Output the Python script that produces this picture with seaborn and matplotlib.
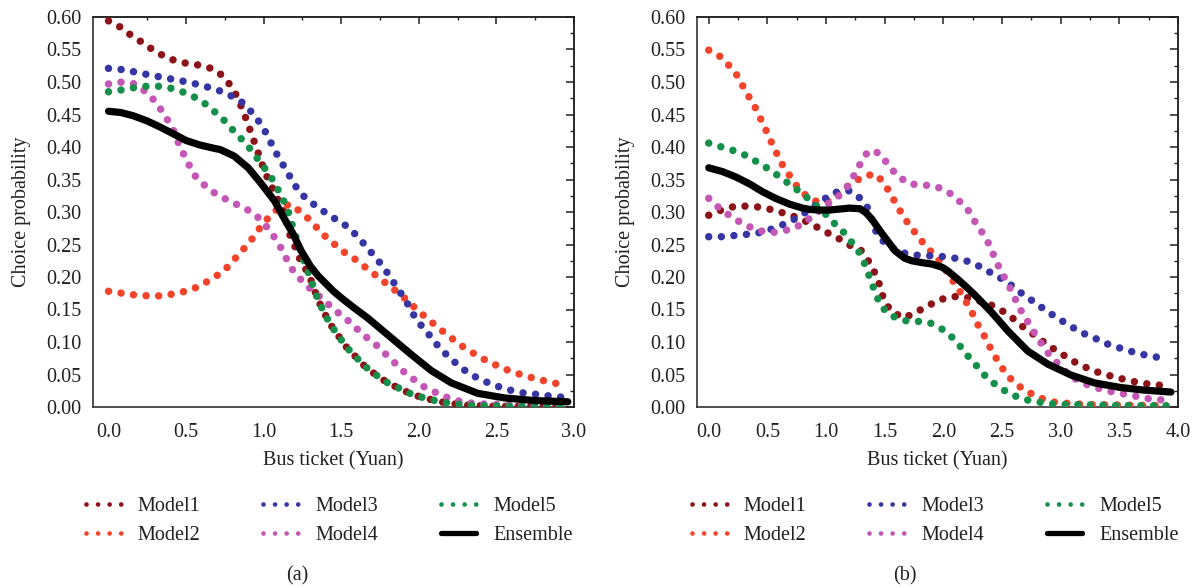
import matplotlib
matplotlib.use("Agg")
import matplotlib.pyplot as plt
import seaborn as sns
import numpy as np
import pandas as pd
from matplotlib.lines import Line2D
from matplotlib.ticker import MultipleLocator, FormatStrFormatter

# ---------------- data: panel (a) ----------------
m1a_x = [0.00,0.08,0.15,0.23,0.30,0.39,0.47,0.56,0.64,0.71,0.77,0.82,0.86,0.89,0.92,0.95,0.98,1.01,1.06,1.10,1.13,1.15,1.17,1.21,1.24,1.29,1.32,1.35,1.39,1.43,1.48,1.53,1.59,1.65,1.72,1.80,1.88,1.96,2.05,2.14,2.22,2.30,2.40,2.50,2.60,2.70,2.80,2.95]
m1a_y = [0.594,0.584,0.571,0.559,0.547,0.536,0.530,0.527,0.523,0.515,0.500,0.481,0.460,0.441,0.421,0.401,0.380,0.360,0.335,0.315,0.300,0.281,0.264,0.242,0.223,0.205,0.185,0.165,0.145,0.127,0.110,0.093,0.078,0.063,0.050,0.037,0.028,0.019,0.013,0.008,0.005,0.003,0.002,0.001,0.001,0.001,0.001,0.000]

m2a_x = [0.00,0.09,0.18,0.26,0.35,0.44,0.53,0.60,0.68,0.75,0.81,0.87,0.93,0.98,1.04,1.10,1.17,1.24,1.31,1.37,1.44,1.50,1.58,1.65,1.72,1.79,1.86,1.93,1.99,2.06,2.13,2.20,2.27,2.35,2.43,2.51,2.59,2.67,2.76,2.85,2.93]
m2a_y = [0.178,0.175,0.172,0.171,0.171,0.175,0.180,0.188,0.199,0.211,0.227,0.243,0.260,0.277,0.294,0.307,0.312,0.300,0.285,0.268,0.254,0.241,0.229,0.216,0.203,0.190,0.177,0.163,0.149,0.135,0.121,0.108,0.095,0.083,0.072,0.063,0.055,0.049,0.043,0.038,0.034]

m3a_x = [0.00,0.09,0.18,0.26,0.35,0.44,0.53,0.61,0.69,0.78,0.85,0.91,0.97,1.02,1.06,1.10,1.15,1.19,1.24,1.31,1.38,1.45,1.53,1.59,1.65,1.71,1.77,1.82,1.87,1.92,1.96,2.01,2.07,2.12,2.18,2.25,2.32,2.40,2.48,2.57,2.66,2.74,2.84,2.93]
m3a_y = [0.521,0.519,0.515,0.511,0.507,0.503,0.499,0.494,0.489,0.480,0.471,0.457,0.439,0.420,0.400,0.382,0.363,0.345,0.328,0.314,0.302,0.291,0.279,0.266,0.250,0.233,0.216,0.198,0.180,0.162,0.144,0.127,0.110,0.095,0.080,0.065,0.052,0.042,0.034,0.027,0.022,0.020,0.017,0.015]

m4a_x = [0.00,0.09,0.17,0.24,0.31,0.36,0.41,0.44,0.48,0.52,0.56,0.62,0.69,0.77,0.85,0.93,0.99,1.05,1.10,1.14,1.18,1.24,1.30,1.37,1.43,1.50,1.57,1.63,1.71,1.77,1.84,1.90,1.97,2.04,2.13,2.21,2.30,2.38,2.50,2.65,2.80,2.93]
m4a_y = [0.497,0.500,0.497,0.485,0.468,0.449,0.431,0.412,0.391,0.372,0.355,0.341,0.328,0.318,0.309,0.299,0.286,0.268,0.250,0.231,0.213,0.196,0.182,0.168,0.155,0.141,0.128,0.113,0.099,0.085,0.069,0.055,0.042,0.030,0.020,0.012,0.007,0.005,0.004,0.003,0.002,0.002]

m5a_x = [0.00,0.09,0.18,0.27,0.36,0.44,0.52,0.60,0.66,0.73,0.79,0.85,0.91,0.96,1.02,1.07,1.11,1.15,1.19,1.23,1.26,1.29,1.32,1.35,1.39,1.43,1.48,1.53,1.59,1.65,1.72,1.80,1.88,1.96,2.05,2.14,2.22,2.30,2.45,2.60,2.75,2.95]
m5a_y = [0.485,0.488,0.492,0.494,0.493,0.488,0.481,0.471,0.459,0.445,0.429,0.414,0.398,0.382,0.363,0.345,0.326,0.307,0.275,0.245,0.225,0.205,0.185,0.165,0.145,0.127,0.110,0.093,0.078,0.063,0.050,0.037,0.028,0.019,0.013,0.008,0.005,0.003,0.002,0.001,0.001,0.000]

ensa_x = [0.00,0.08,0.16,0.25,0.33,0.42,0.50,0.59,0.68,0.72,0.81,0.90,0.98,1.07,1.13,1.19,1.24,1.30,1.35,1.40,1.45,1.50,1.58,1.67,1.82,1.95,2.08,2.21,2.38,2.55,2.74,2.96]
ensa_y = [0.455,0.453,0.448,0.440,0.431,0.420,0.410,0.403,0.398,0.396,0.386,0.368,0.345,0.317,0.291,0.266,0.241,0.217,0.202,0.190,0.178,0.168,0.153,0.137,0.107,0.081,0.056,0.037,0.021,0.014,0.010,0.008]

# ---------------- data: panel (b) ----------------
m1b_x = [0.00,0.12,0.23,0.34,0.46,0.57,0.68,0.79,0.88,0.98,1.10,1.20,1.29,1.36,1.42,1.46,1.49,1.55,1.66,1.75,1.86,1.97,2.08,2.19,2.31,2.42,2.52,2.61,2.70,2.80,2.89,2.99,3.09,3.20,3.31,3.42,3.53,3.65,3.76,3.88]
m1b_y = [0.295,0.304,0.309,0.309,0.307,0.302,0.296,0.289,0.281,0.271,0.260,0.249,0.243,0.225,0.205,0.186,0.166,0.148,0.137,0.144,0.155,0.165,0.170,0.169,0.163,0.156,0.146,0.134,0.120,0.108,0.095,0.084,0.072,0.062,0.054,0.048,0.043,0.038,0.035,0.033]

m2b_x = [0.00,0.10,0.18,0.26,0.31,0.38,0.43,0.48,0.53,0.58,0.63,0.69,0.75,0.83,0.94,1.04,1.12,1.23,1.33,1.43,1.51,1.57,1.63,1.69,1.76,1.83,1.91,1.99,2.05,2.12,2.18,2.24,2.29,2.35,2.40,2.46,2.52,2.59,2.69,2.81,2.92,3.03,3.20,3.50,3.90]
m2b_y = [0.549,0.539,0.524,0.506,0.486,0.467,0.448,0.429,0.409,0.390,0.372,0.356,0.340,0.325,0.314,0.318,0.332,0.345,0.356,0.358,0.340,0.321,0.302,0.285,0.268,0.252,0.236,0.220,0.202,0.184,0.166,0.147,0.128,0.109,0.091,0.072,0.055,0.040,0.026,0.015,0.008,0.006,0.004,0.003,0.002]

m3b_x = [0.00,0.12,0.23,0.35,0.46,0.57,0.68,0.78,0.87,0.97,1.07,1.19,1.27,1.35,1.43,1.51,1.62,1.73,1.84,1.96,2.07,2.18,2.29,2.39,2.49,2.59,2.68,2.77,2.87,2.97,3.07,3.17,3.28,3.38,3.50,3.61,3.72,3.84]
m3b_y = [0.262,0.262,0.264,0.266,0.269,0.276,0.284,0.294,0.305,0.318,0.330,0.333,0.325,0.308,0.268,0.250,0.239,0.234,0.233,0.232,0.230,0.226,0.218,0.208,0.198,0.186,0.173,0.162,0.149,0.137,0.126,0.115,0.107,0.098,0.091,0.085,0.080,0.076]

m4b_x = [0.00,0.09,0.19,0.29,0.40,0.51,0.62,0.74,0.83,0.93,1.02,1.11,1.19,1.25,1.30,1.36,1.45,1.53,1.60,1.71,1.82,1.94,2.04,2.13,2.21,2.27,2.34,2.40,2.44,2.49,2.55,2.60,2.65,2.71,2.77,2.83,2.90,2.98,3.06,3.17,3.28,3.39,3.51,3.63,3.74,3.86]
m4b_y = [0.321,0.306,0.293,0.282,0.273,0.268,0.270,0.276,0.286,0.300,0.313,0.325,0.341,0.360,0.377,0.394,0.391,0.373,0.357,0.343,0.342,0.339,0.331,0.318,0.303,0.285,0.266,0.247,0.228,0.209,0.190,0.171,0.152,0.134,0.116,0.099,0.081,0.066,0.051,0.038,0.031,0.025,0.021,0.017,0.013,0.011]

m5b_x = [0.00,0.11,0.22,0.33,0.43,0.53,0.62,0.71,0.80,0.89,0.98,1.05,1.14,1.22,1.29,1.34,1.38,1.42,1.46,1.53,1.65,1.77,1.88,1.98,2.07,2.15,2.22,2.30,2.37,2.47,2.57,2.68,2.80,2.91,3.03,3.30,3.60,3.90]
m5b_y = [0.406,0.400,0.394,0.386,0.375,0.364,0.352,0.340,0.328,0.314,0.300,0.286,0.271,0.253,0.236,0.216,0.195,0.176,0.158,0.143,0.133,0.132,0.130,0.121,0.108,0.092,0.076,0.060,0.045,0.031,0.020,0.012,0.008,0.005,0.004,0.003,0.002,0.002]

ensb_x = [0.00,0.12,0.23,0.35,0.46,0.57,0.69,0.80,0.86,0.94,1.03,1.20,1.29,1.34,1.39,1.48,1.59,1.67,1.73,1.82,1.90,1.99,2.04,2.12,2.20,2.27,2.34,2.41,2.55,2.72,2.89,3.09,3.29,3.51,3.71,3.94]
ensb_y = [0.368,0.362,0.354,0.343,0.331,0.321,0.312,0.306,0.304,0.303,0.303,0.306,0.305,0.299,0.289,0.266,0.240,0.229,0.225,0.222,0.220,0.215,0.209,0.197,0.184,0.172,0.159,0.146,0.117,0.086,0.066,0.049,0.037,0.030,0.026,0.023]

series_names = ["Model1", "Model2", "Model3", "Model4", "Model5", "Ensemble"]
colors = ["#8c1418", "#f2442b", "#3535a3", "#c457b5", "#14904a", "#000000"]

panel_a = [(m1a_x, m1a_y), (m2a_x, m2a_y), (m3a_x, m3a_y), (m4a_x, m4a_y), (m5a_x, m5a_y), (ensa_x, ensa_y)]
panel_b = [(m1b_x, m1b_y), (m2b_x, m2b_y), (m3b_x, m3b_y), (m4b_x, m4b_y), (m5b_x, m5b_y), (ensb_x, ensb_y)]

x_ticks_a = [0.0, 0.5, 1.0, 1.5, 2.0, 2.5, 3.0]
x_ticks_b = [0.0, 0.5, 1.0, 1.5, 2.0, 2.5, 3.0, 3.5, 4.0]
y_ticks = [0.00, 0.05, 0.10, 0.15, 0.20, 0.25, 0.30, 0.35, 0.40, 0.45, 0.50, 0.55, 0.60]

# ---------------- style ----------------
sns.set_style("white")
plt.rcParams["font.family"] = ["Liberation Serif", "DejaVu Serif"]
plt.rcParams["text.color"] = "#231f20"
plt.rcParams["axes.labelcolor"] = "#231f20"
plt.rcParams["xtick.color"] = "#231f20"
plt.rcParams["ytick.color"] = "#231f20"
FS = 14.5

fig = plt.figure(figsize=(11.98, 5.88), dpi=100)
W, H = 1198, 588
ax_a = fig.add_axes([93 / W, 1 - 407 / H, 481 / W, 390 / H])
ax_b = fig.add_axes([697 / W, 1 - 407 / H, 481 / W, 390 / H])

DOT_LW = 5.4
ENS_LW = 5.2


def draw_panel(ax, data, xlim, xticks):
    for (xs, ys), name, col in zip(data, series_names, colors):
        df = pd.DataFrame({"x": xs, "y": ys})
        if name == "Ensemble":
            sns.lineplot(data=df, x="x", y="y", ax=ax, color=col, linewidth=ENS_LW,
                         sort=False, estimator=None, solid_capstyle="round",
                         solid_joinstyle="round", zorder=5)
        else:
            sns.lineplot(data=df, x="x", y="y", ax=ax, color=col, linewidth=DOT_LW,
                         sort=False, estimator=None, linestyle=(0, (0.001, 1.68)),
                         dash_capstyle="round", zorder=3)
    ax.set_xlim(*xlim)
    ax.set_ylim(0, 0.6)
    ax.set_xticks(xticks)
    ax.set_yticks(y_ticks)
    ax.xaxis.set_minor_locator(MultipleLocator(0.25))
    ax.yaxis.set_minor_locator(MultipleLocator(0.025))
    ax.xaxis.set_major_formatter(FormatStrFormatter("%.1f"))
    ax.yaxis.set_major_formatter(FormatStrFormatter("%.2f"))
    ax.tick_params(axis="both", which="major", direction="out", length=5.5, width=1.1,
                   labelsize=FS, top=False, right=False)
    ax.tick_params(axis="both", which="minor", direction="out", length=2.5, width=1.0,
                   top=False, right=False)
    ax.tick_params(axis="x", which="major", pad=6.0)
    ax.tick_params(axis="y", which="major", pad=3)
    for s in ax.spines.values():
        s.set_linewidth(1.1)
        s.set_color("#231f20")
    # mirrored inward ticks on top and right
    sx = ax.secondary_xaxis("top")
    sx.set_xticks(xticks)
    sx.xaxis.set_minor_locator(MultipleLocator(0.25))
    sx.tick_params(which="major", direction="in", length=5, width=1.1, labeltop=False)
    sx.tick_params(which="minor", direction="in", length=2.5, width=1.0)
    sx.spines["top"].set_linewidth(1.1)
    sy = ax.secondary_yaxis("right")
    sy.set_yticks(y_ticks)
    sy.yaxis.set_minor_locator(MultipleLocator(0.025))
    sy.tick_params(which="major", direction="in", length=6, width=1.1, labelright=False)
    sy.tick_params(which="minor", direction="in", length=3, width=1.0)
    sy.spines["right"].set_linewidth(1.1)
    ax.set_xlabel("Bus ticket (Yuan)", fontsize=FS, labelpad=7)
    ax.set_ylabel("Choice probability", fontsize=FS, labelpad=11)
    ax.grid(False)
    leg = ax.get_legend()
    if leg is not None:
        leg.remove()


draw_panel(ax_a, panel_a, (-0.1, 3.0), x_ticks_a)
draw_panel(ax_b, panel_b, (-0.1, 4.0), x_ticks_b)


def make_handles():
    hs = []
    for name, col in zip(series_names, colors):
        if name == "Ensemble":
            hs.append(Line2D([0], [0], color=col, lw=3.8, solid_capstyle="round"))
        else:
            hs.append(Line2D([0], [0], color=col, lw=3.4, linestyle=(0, (0.001, 2.45)),
                             dash_capstyle="round"))
    return hs


for cx in [329, 935]:
    fig.legend(make_handles(), series_names, loc="center", ncol=3,
               bbox_to_anchor=(cx / W, 1 - 521 / H), frameon=False, fontsize=FS,
               handlelength=1.75, handletextpad=0.85, columnspacing=3.1, labelspacing=0.5)

fig.text(297 / W, 1 - 576 / H, "(a)", ha="center", va="center", fontsize=FS)
fig.text(905 / W, 1 - 576 / H, "(b)", ha="center", va="center", fontsize=FS)

fig.savefig("out.png", dpi=100)
